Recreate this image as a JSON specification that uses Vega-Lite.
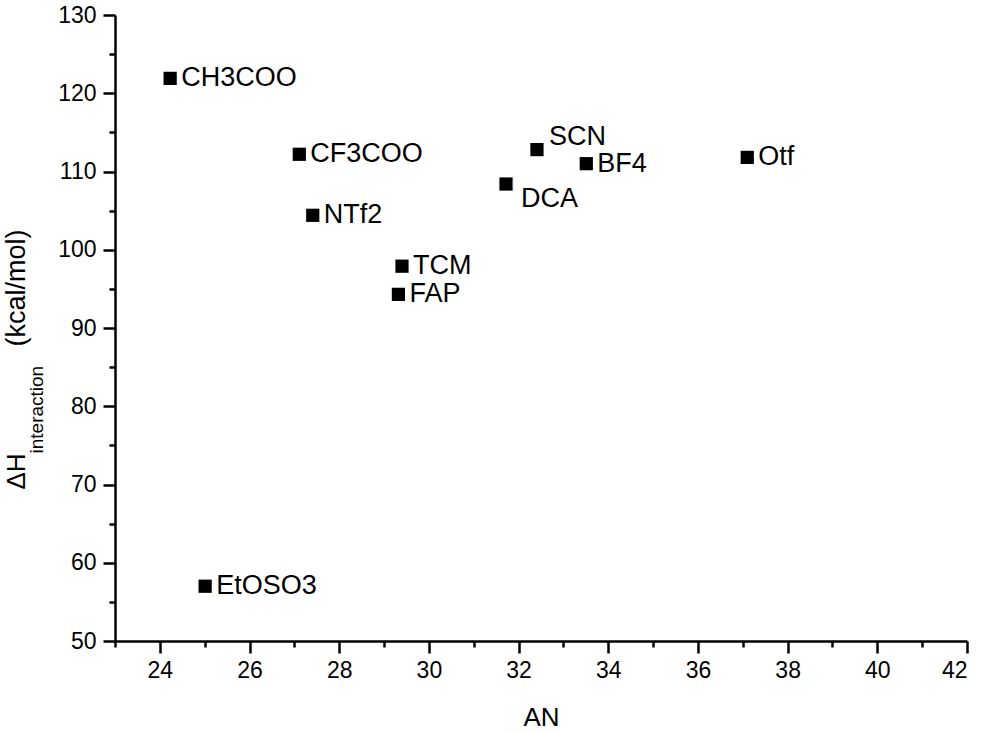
{
  "$schema": "https://vega.github.io/schema/vega-lite/v6.json",
  "width": 852,
  "height": 626,
  "autosize": {"type": "none"},
  "padding": {"left": 115, "top": 15, "right": 15, "bottom": 92},
  "background": "white",
  "config": {
    "view": {"stroke": null},
    "font": "Liberation Sans",
    "axis": {
      "grid": false,
      "domainColor": "black",
      "domainWidth": 2.5,
      "tickColor": "black",
      "tickWidth": 2.5,
      "labelColor": "black",
      "titleColor": "black",
      "labelFont": "Liberation Sans",
      "titleFont": "Liberation Sans",
      "titleFontWeight": "normal"
    }
  },
  "data": {
    "values": [
      {"anion": "CH3COO", "AN": 24.23, "dH": 121.9},
      {"anion": "CF3COO", "AN": 27.11, "dH": 112.2},
      {"anion": "NTf2", "AN": 27.41, "dH": 104.4},
      {"anion": "TCM", "AN": 29.40, "dH": 97.9},
      {"anion": "FAP", "AN": 29.32, "dH": 94.3},
      {"anion": "SCN", "AN": 32.41, "dH": 112.8},
      {"anion": "BF4", "AN": 33.51, "dH": 111.0},
      {"anion": "DCA", "AN": 31.72, "dH": 108.4},
      {"anion": "Otf", "AN": 37.10, "dH": 111.8},
      {"anion": "EtOSO3", "AN": 25.01, "dH": 57.0}
    ]
  },
  "resolve": {"axis": {"x": "independent", "y": "independent"}},
  "layer": [
    {
      "mark": {"type": "point", "shape": "square", "filled": true, "color": "black", "size": 175, "opacity": 1},
      "encoding": {
        "x": {
          "field": "AN", "type": "quantitative",
          "scale": {"domain": [23, 42], "nice": false, "zero": false},
          "axis": {
            "orient": "bottom",
            "values": [24, 26, 28, 30, 32, 34, 36, 38, 40, 42],
            "tickSize": 12,
            "labelFontSize": 23,
            "labelPadding": 6,
            "title": "AN",
            "titleFontSize": 26,
            "titleY": 76,
            "titleBaseline": "middle"
          }
        },
        "y": {
          "field": "dH", "type": "quantitative",
          "scale": {"domain": [50, 130], "nice": false, "zero": false},
          "axis": {
            "orient": "left",
            "values": [50, 60, 70, 80, 90, 100, 110, 120, 130],
            "tickSize": 12,
            "labelFontSize": 23,
            "labelPadding": 7,
            "title": "ΔH",
            "titleFontSize": 26,
            "titleAngle": -90,
            "titleX": -99,
            "titleY": 474,
            "titleAlign": "left",
            "titleBaseline": "middle"
          }
        }
      }
    },
    {
      "transform": [{"filter": "datum.anion !== 'SCN' && datum.anion !== 'DCA'"}],
      "mark": {"type": "text", "align": "left", "baseline": "middle", "dx": 11, "fontSize": 27, "color": "black"},
      "encoding": {
        "text": {"field": "anion"},
        "x": {
          "field": "AN", "type": "quantitative",
          "scale": {"domain": [23, 42], "nice": false, "zero": false},
          "axis": {
            "orient": "bottom",
            "values": [23, 25, 27, 29, 31, 33, 35, 37, 39, 41],
            "tickSize": 6,
            "labels": false,
            "domain": false,
            "title": null
          }
        },
        "y": {
          "field": "dH", "type": "quantitative",
          "scale": {"domain": [50, 130], "nice": false, "zero": false},
          "axis": {
            "orient": "left",
            "values": [55, 65, 75, 85, 95, 105, 115, 125],
            "tickSize": 6,
            "labels": false,
            "domain": false,
            "title": "interaction",
            "titleFontSize": 19,
            "titleAngle": -90,
            "titleX": -79,
            "titleY": 438,
            "titleAlign": "left",
            "titleBaseline": "middle"
          }
        }
      }
    },
    {
      "transform": [{"filter": "datum.anion === 'SCN'"}],
      "mark": {"type": "text", "align": "left", "baseline": "middle", "dx": 12, "dy": -13, "fontSize": 27, "color": "black"},
      "encoding": {
        "text": {"field": "anion"},
        "x": {"field": "AN", "type": "quantitative", "scale": {"domain": [23, 42], "nice": false, "zero": false}, "axis": null},
        "y": {
          "field": "dH", "type": "quantitative",
          "scale": {"domain": [50, 130], "nice": false, "zero": false},
          "axis": {
            "orient": "left",
            "values": [],
            "ticks": false,
            "labels": false,
            "domain": false,
            "title": "(kcal/mol)",
            "titleFontSize": 27,
            "titleAngle": -90,
            "titleX": -99,
            "titleY": 214,
            "titleAlign": "right",
            "titleBaseline": "middle"
          }
        }
      }
    },
    {
      "transform": [{"filter": "datum.anion === 'DCA'"}],
      "mark": {"type": "text", "align": "left", "baseline": "middle", "dx": 15, "dy": 15, "fontSize": 27, "color": "black"},
      "encoding": {
        "text": {"field": "anion"},
        "x": {"field": "AN", "type": "quantitative", "scale": {"domain": [23, 42], "nice": false, "zero": false}, "axis": null},
        "y": {"field": "dH", "type": "quantitative", "scale": {"domain": [50, 130], "nice": false, "zero": false}, "axis": null}
      }
    }
  ]
}
